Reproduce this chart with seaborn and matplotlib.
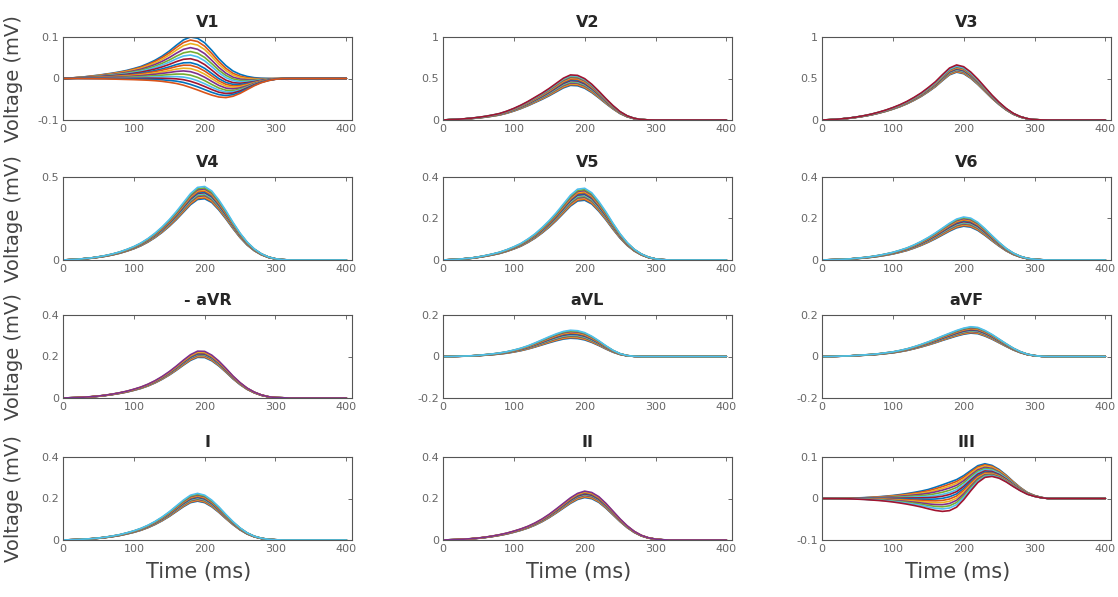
import numpy as np
import pandas as pd
import seaborn as sns
import matplotlib
matplotlib.use("Agg")
import matplotlib.pyplot as plt
from matplotlib.ticker import FuncFormatter

# time axis (ms): 10 ms steps over the beat, flat to the end after 320
TIME = [0, 10, 20, 30, 40, 50, 60, 70, 80, 90, 100, 110, 120, 130, 140, 150, 160,
        170, 180, 190, 200, 210, 220, 230, 240, 250, 260, 270, 280, 290, 300, 310, 320, 400]

# matlab default line colours
LINE_COLORS = ['#0072BD', '#D95319', '#EDB120', '#7E2F8E',
               '#77AC30', '#4DBEEE', '#A2142F']

# V1: every beat is a positive wave plus a late negative wave
V1_POS = [0, .01, .025, .04, .06, .08, .105, .13, .16, .195, .24, .29, .36, .44, .54, .66, .8,
          .93, 1.0, .97, .86, .68, .48, .31, .18, .1, .05, .02, .007, .002, 0, 0, 0, 0]
V1_NEG = [0, 0, 0, -.005, -.01, -.015, -.02, -.03, -.04, -.05, -.06, -.075, -.09, -.115, -.15, -.2, -.26,
          -.35, -.47, -.6, -.74, -.87, -.97, -1.0, -.93, -.78, -.58, -.38, -.22, -.11, -.04, -.01, 0, 0]
V1_POS_AMP = [.100, .095, .088, .080, .072, .065, .058, .050, .045, .038, .032, .025, .018, .012, .006, .0]
V1_NEG_AMP = [.000, .005, .008, .012, .015, .018, .022, .025, .028, .030, .033, .036, .038, .040, .043, .046]

# III: common late wave plus an early wave that goes up or down
III_LATE = [0, 0, 0, 0, 0, 0, 0, 0, 0, 0, 0, 0, 0, 0, 0, 0, .001,
            .003, .007, .014, .027, .043, .058, .066, .065, .058, .047, .034, .022, .012, .006, .002, 0, 0]
III_EARLY = [0, 0, .005, .01, .02, .04, .06, .09, .12, .16, .21, .27, .34, .42, .51, .62, .74,
             .84, .88, .82, .65, .45, .27, .13, .05, .01, 0, 0, 0, 0, 0, 0, 0, 0]
III_LATE_AMP = [1.2, 1.17, 1.14, 1.1, 1.07, 1.04, 1.0, .97, .95, .93, .91, .89, .87, .85]
III_EARLY_AMP = [.035, .03, .025, .02, .014, .008, .003, -.003, -.009, -.015, -.021, -.027, -.033, -.04]

# other leads: one typical beat (mV) and the spread of beat amplitudes
V2_BASE = [0, .004, .008, .013, .02, .029, .04, .054, .07, .095, .125, .16, .2, .245, .29, .34, .395,
           .45, .485, .48, .445, .385, .31, .23, .155, .09, .045, .018, .005, .001, 0, 0, 0, 0]
V2_SCALES = [0.86, 0.88, 0.9, 0.92, 0.94, 0.96, 0.98, 1.0, 1.02, 1.04, 1.06, 1.08, 1.10, 1.12]
V3_BASE = [0, .003, .008, .015, .024, .036, .05, .067, .088, .112, .14, .172, .21, .255, .305, .365, .43,
           .51, .585, .62, .6, .54, .46, .37, .28, .2, .13, .075, .038, .015, .004, .001, 0, 0]
V3_SCALES = [0.93, 0.94, 0.95, 0.96, 0.97, 0.98, 0.99, 1.0, 1.01, 1.02, 1.03, 1.04, 1.05, 1.07]
V4_BASE = [0, .002, .004, .008, .012, .018, .025, .034, .045, .059, .075, .095, .12, .15, .185, .225, .27,
           .32, .37, .405, .41, .385, .335, .275, .21, .15, .1, .062, .035, .017, .007, .002, 0, 0]
V4_SCALES = [0.90, 0.915, 0.93, 0.945, 0.96, 0.975, 0.99, 1.0, 1.015, 1.03, 1.045, 1.06, 1.08]
V5_BASE = [0, .0015, .003, .006, .009, .014, .02, .027, .035, .046, .059, .074, .094, .117, .145, .176, .211,
           .25, .289, .316, .32, .3, .261, .215, .164, .117, .078, .048, .027, .013, .005, .0015, 0, 0]
V5_SCALES = [0.90, 0.915, 0.93, 0.945, 0.96, 0.975, 0.99, 1.0, 1.015, 1.03, 1.045, 1.06, 1.08]
V6_BASE = [0, .001, .002, .003, .005, .008, .011, .015, .02, .026, .033, .042, .052, .065, .08, .097, .116,
           .137, .158, .176, .185, .18, .162, .135, .105, .076, .05, .03, .016, .007, .003, .001, 0, 0]
V6_SCALES = [0.88, 0.9, 0.92, 0.94, 0.96, 0.98, 1.0, 1.02, 1.04, 1.06, 1.08, 1.10, 1.12]
AVR_BASE = [0, .001, .002, .004, .006, .009, .013, .018, .024, .031, .04, .05, .063, .079, .098, .12, .145,
            .172, .197, .213, .212, .195, .168, .135, .1, .07, .045, .027, .014, .006, .002, .001, 0, 0]
AVR_SCALES = [0.92, 0.935, 0.95, 0.965, 0.98, 0.99, 1.0, 1.01, 1.025, 1.04, 1.06]
AVL_BASE = [0, 0, .001, .002, .003, .005, .008, .011, .015, .02, .027, .035, .045, .057, .07, .083, .095,
            .105, .11, .108, .1, .085, .066, .045, .026, .012, .004, .001, 0, 0, 0, 0, 0, 0]
AVL_SCALES = [0.80, 0.83, 0.86, 0.89, 0.92, 0.95, 0.98, 1.0, 1.03, 1.06, 1.09, 1.12, 1.15]
AVF_BASE = [0, 0, .001, .002, .003, .005, .007, .009, .012, .016, .02, .026, .033, .042, .052, .063, .075,
            .088, .1, .112, .122, .128, .125, .112, .095, .075, .055, .036, .021, .01, .004, .001, 0, 0]
AVF_SCALES = [0.88, 0.9, 0.92, 0.94, 0.96, 0.98, 1.0, 1.02, 1.04, 1.06, 1.08, 1.10, 1.12]
I_BASE = [0, .001, .002, .004, .006, .009, .013, .018, .024, .032, .041, .052, .066, .083, .103, .126, .152,
          .178, .2, .208, .2, .178, .148, .114, .082, .054, .032, .017, .008, .003, .001, 0, 0, 0]
I_SCALES = [0.90, 0.915, 0.93, 0.945, 0.96, 0.975, 0.99, 1.0, 1.015, 1.03, 1.045, 1.06, 1.08]
II_BASE = [0, .001, .002, .004, .006, .009, .013, .018, .024, .031, .04, .05, .062, .077, .095, .116, .14,
           .165, .19, .21, .22, .214, .195, .165, .13, .095, .064, .039, .021, .01, .004, .001, 0, 0]
II_SCALES = [0.93, 0.945, 0.96, 0.975, 0.99, 1.0, 1.01, 1.025, 1.04, 1.055, 1.07]

LEADS = ["V1", "V2", "V3", "V4", "V5", "V6", "- aVR", "aVL", "aVF", "I", "II", "III"]
YLIMS = [(-0.1, 0.1), (0, 1), (0, 1), (0, 0.5), (0, 0.4), (0, 0.4),
         (0, 0.4), (-0.2, 0.2), (-0.2, 0.2), (0, 0.4), (0, 0.4), (-0.1, 0.1)]
YTICKS = [[-0.1, 0, 0.1], [0, 0.5, 1], [0, 0.5, 1], [0, 0.5], [0, 0.2, 0.4], [0, 0.2, 0.4],
          [0, 0.2, 0.4], [-0.2, 0, 0.2], [-0.2, 0, 0.2], [0, 0.2, 0.4], [0, 0.2, 0.4], [-0.1, 0, 0.1]]
XTICKS = [0, 100, 200, 300, 400]


def scaled(base, scales):
    return [[v * s for v in base] for s in scales]


def mixed(wave_a, amps_a, wave_b, amps_b):
    return [[a * va + b * vb for va, vb in zip(wave_a, wave_b)] for a, b in zip(amps_a, amps_b)]


CURVES = [
    mixed(V1_POS, V1_POS_AMP, V1_NEG, V1_NEG_AMP),
    scaled(V2_BASE, V2_SCALES),
    scaled(V3_BASE, V3_SCALES),
    scaled(V4_BASE, V4_SCALES),
    scaled(V5_BASE, V5_SCALES),
    scaled(V6_BASE, V6_SCALES),
    scaled(AVR_BASE, AVR_SCALES),
    scaled(AVL_BASE, AVL_SCALES),
    scaled(AVF_BASE, AVF_SCALES),
    scaled(I_BASE, I_SCALES),
    scaled(II_BASE, II_SCALES),
    mixed(III_LATE, III_LATE_AMP, III_EARLY, III_EARLY_AMP),
]


def to_frame(curves):
    rows = []
    for k, c in enumerate(curves):
        for t, v in zip(TIME, c):
            rows.append((k, t, v))
    return pd.DataFrame(rows, columns=["beat", "time", "voltage"])


sns.set_theme(style="white")
plt.rcParams['font.family'] = ['DejaVu Sans']
plt.rcParams['axes.unicode_minus'] = False

fig = plt.figure(figsize=(11.18, 5.97), dpi=100)
W, H = 1118, 597
col_left = [63, 443, 822]
row_top = [37, 177, 315, 457]
ax_w, ax_h = 289, 83

for i, lead in enumerate(LEADS):
    r, c = divmod(i, 3)
    ax = fig.add_axes([col_left[c] / W, 1 - (row_top[r] + ax_h) / H, ax_w / W, ax_h / H])
    df = to_frame(CURVES[i])
    n = len(CURVES[i])
    pal = [LINE_COLORS[k % len(LINE_COLORS)] for k in range(n)]
    sns.lineplot(data=df, x="time", y="voltage", hue="beat", palette=pal,
                 estimator=None, legend=False, linewidth=1.2, ax=ax)
    ax.set_xlim(0, 408)
    ax.set_ylim(*YLIMS[i])
    ax.set_xticks(XTICKS)
    ax.set_yticks(YTICKS[i])
    ax.yaxis.set_major_formatter(FuncFormatter(lambda v, p: "%g" % v))
    ax.tick_params(direction="in", length=3, width=0.6, colors="#555555",
                   labelsize=8, top=True, right=True, labelcolor="#666666", pad=3)
    for s in ax.spines.values():
        s.set_color("#555555")
        s.set_linewidth(0.8)
    ax.set_title(lead, fontsize=11.5, fontweight="bold", pad=7)
    if c == 0:
        ax.set_ylabel("Voltage (mV)", fontsize=14, color="#444444")
        ax.yaxis.set_label_coords(-0.14, 0.5)
    else:
        ax.set_ylabel("")
    if r == 3:
        ax.set_xlabel("Time (ms)", fontsize=15, color="#444444")
        ax.xaxis.set_label_coords(0.47, -0.27)
    else:
        ax.set_xlabel("")

fig.savefig("out.png", dpi=100)
